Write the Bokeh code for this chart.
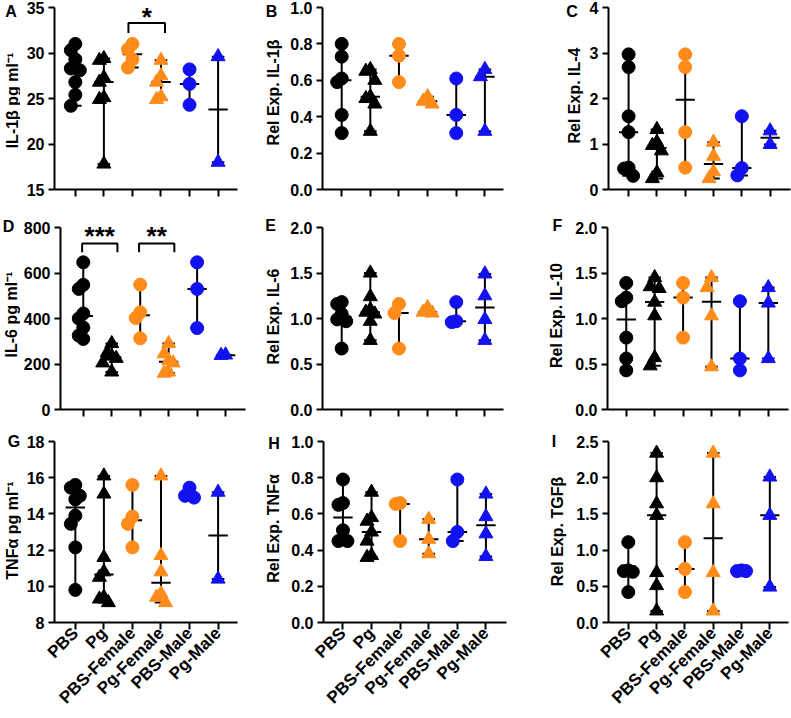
import math
from statistics import median

from bokeh.core.properties import value
from bokeh.embed import file_html
from bokeh.layouts import column, row
from bokeh.models import FixedTicker, Label, NumeralTickFormatter, Range1d
from bokeh.plotting import figure
from bokeh.resources import INLINE

# ---------------------------------------------------------------- data
groups = ["PBS", "Pg", "PBS-Female", "Pg-Female", "PBS-Male", "Pg-Male"]

il1b_elisa = [
    [31.0, 30.3, 29.3, 28.3, 28.1, 26.8, 25.4, 24.2],
    [29.4, 29.2, 27.3, 26.8, 25.1, 24.9, 17.8],
    [31.0, 30.4, 29.3, 28.4],
    [29.2, 27.5, 26.8, 25.2, 24.9],
    [28.2, 26.6, 24.3],
    [29.6, 18.0],
]
il1b_rel = [
    [0.80, 0.73, 0.61, 0.59, 0.41, 0.31],
    [0.66, 0.65, 0.60, 0.51, 0.50, 0.47, 0.32],
    [0.80, 0.735, 0.59],
    [0.51, 0.485, 0.47],
    [0.61, 0.41, 0.31],
    [0.66, 0.62, 0.32],
]
il4_rel = [
    [2.97, 2.69, 1.61, 1.26, 0.48, 0.46, 0.30],
    [1.32, 1.04, 0.97, 0.85, 0.37, 0.24],
    [2.97, 2.69, 1.26, 0.48],
    [1.04, 0.73, 0.39, 0.24],
    [1.61, 0.47, 0.31],
    [1.29, 0.99],
]
il6_elisa = [
    [647, 548, 530, 422, 400, 360, 325, 310],
    [290, 250, 235, 225, 205, 165],
    [549, 427, 402, 313],
    [290, 245, 215, 205, 165, 160],
    [647, 530, 358],
    [240, 238],
]
il6_rel = [
    [1.18, 1.16, 1.05, 0.99, 0.97, 0.67],
    [1.50, 1.24, 1.10, 1.07, 1.05, 0.97, 0.76],
    [1.16, 1.06, 0.67],
    [1.12, 1.07, 1.06],
    [1.18, 0.97, 0.96],
    [1.49, 1.25, 0.99, 0.76],
]
il10_rel = [
    [1.39, 1.23, 1.19, 0.79, 0.56, 0.43],
    [1.45, 1.35, 1.33, 1.18, 1.03, 0.57, 0.48],
    [1.39, 1.23, 0.79],
    [1.45, 1.34, 1.03, 0.47],
    [1.19, 0.56, 0.43],
    [1.34, 1.17, 0.56],
]
tnfa_elisa = [
    [15.6, 15.45, 15.0, 14.8, 13.9, 13.45, 12.15, 9.8],
    [16.1, 15.1, 11.6, 10.8, 10.5, 9.4, 9.3, 9.1],
    [15.6, 13.85, 13.45, 12.15],
    [16.1, 11.7, 10.8, 9.6, 9.4, 9.1],
    [15.45, 15.0, 14.9],
    [15.2, 10.4],
]
tnfa_rel = [
    [0.79, 0.66, 0.65, 0.51, 0.45, 0.45],
    [0.72, 0.58, 0.56, 0.50, 0.45, 0.37, 0.36],
    [0.66, 0.655, 0.45],
    [0.57, 0.46, 0.38],
    [0.79, 0.50, 0.45],
    [0.71, 0.585, 0.49, 0.365],
]
tgfb_rel = [
    [1.11, 0.72, 0.71, 0.70, 0.42],
    [2.34, 2.00, 1.64, 1.48, 0.69, 0.51, 0.16],
    [1.11, 0.74, 0.42],
    [2.34, 1.64, 0.69, 0.16],
    [0.72, 0.71, 0.71],
    [2.01, 1.48, 0.49],
]

# significance brackets: (group a, group b, stars)
sig_il1b = [(2, 3, "*")]
sig_il6 = [(0, 1, "***"), (2, 3, "**")]

y_titles = [
    "IL-1\u03b2 pg ml\u207b\u00b9", "Rel Exp. IL-1\u03b2", "Rel Exp. IL-4",
    "IL-6 pg ml\u207b\u00b9", "Rel Exp. IL-6", "Rel Exp. IL-10",
    "TNF\u03b1 pg ml\u207b\u00b9", "Rel Exp. TNF\u03b1", "Rel Exp. TGF\u03b2",
]
letters = ["A", "B", "C", "D", "E", "F", "G", "H", "I"]

# ---------------------------------------------------------------- style
FONT = "Liberation Sans"
TICK_FS = "16px"
XLAB_FS = "17px"
TITLE_FS = "16px"
LETTER_FS = "16px"
BLACK = "#000000"
ORANGE = "#FF8C1A"
BLUE = "#1212F0"
group_colors = [BLACK, BLACK, ORANGE, ORANGE, BLUE, BLUE]
group_markers = ["circle", "triangle"] * 3
marker_sizes = {"circle": 13, "triangle": 14}

# page layout of the 3x3 grid (pixels)
col_x = [0, 260, 520]
col_w = [260, 260, 271]
row_y = [0, 215, 431]
row_h = [215, 216, 287]
row_axis_top = [7, 227, 441]     # page y of the top tick of each row
row_fh = [182, 182, 181]         # pixel height of the value axis

# strip = width of the title strip left of each panel; frame = page x of the plot frame
# title = (x centre, y centre) of the rotated y-axis title on the page
panels = [
    dict(data=il1b_elisa, yr=(15, 35), ticks=[15, 20, 25, 30, 35], fmt="0",
         strip=20, frame=54, fw=183, xr=(-0.73, 5.68), title=(11.5, 100), letter_xy=(10.5, 11),
         sig=sig_il1b, br=(33.3, 32.2, -0.14, 0.14), star_y=11),
    dict(data=il1b_rel, yr=(0, 1), ticks=[0, 0.2, 0.4, 0.6, 0.8, 1.0], fmt="0.0",
         strip=23, frame=322, fw=181, xr=(-0.67, 5.65), title=(272.5, 92), letter_xy=(271, 11)),
    dict(data=il4_rel, yr=(0, 4), ticks=[0, 1, 2, 3, 4], fmt="0",
         strip=65, frame=608, fw=182, xr=(-0.71, 5.72), title=(574, 95), letter_xy=(571.5, 11)),
    dict(data=il6_elisa, yr=(0, 800), ticks=[0, 200, 400, 600, 800], fmt="0",
         strip=20, frame=60, fw=185, xr=(-0.8, 5.7), title=(11, 314), letter_xy=(8, 226),
         sig=sig_il6, br=(730, 691, -0.04, 0.2), star_y=230),
    dict(data=il6_rel, yr=(0, 2), ticks=[0, 0.5, 1.0, 1.5, 2.0], fmt="0.0",
         strip=23, frame=322, fw=181, xr=(-0.67, 5.65), title=(272.5, 316), letter_xy=(270, 225)),
    dict(data=il10_rel, yr=(0, 2), ticks=[0, 0.5, 1.0, 1.5, 2.0], fmt="0.0",
         strip=50, frame=607, fw=181, xr=(-0.66, 5.71), title=(556, 315), letter_xy=(557, 225)),
    dict(data=tnfa_elisa, yr=(8, 18), ticks=[8, 10, 12, 14, 16, 18], fmt="0",
         strip=21, frame=54, fw=183, xr=(-0.73, 5.68), title=(11.5, 530), letter_xy=(13.5, 441)),
    dict(data=tnfa_rel, yr=(0, 1), ticks=[0, 0.2, 0.4, 0.6, 0.8, 1.0], fmt="0.0",
         strip=23, frame=323, fw=183, xr=(-0.68, 5.72), title=(273, 528), letter_xy=(273.5, 443)),
    dict(data=tgfb_rel, yr=(0, 2.5), ticks=[0, 0.5, 1.0, 1.5, 2.0, 2.5], fmt="0.0",
         strip=50, frame=608, fw=180, xr=(-0.7, 5.66), title=(556.5, 531), letter_xy=(553.5, 441)),
]


def swarm_offsets(vals, px_per_y, step_px=4.5, min_dy=11.0):
    """Side-by-side placement of points whose values nearly coincide."""
    order = sorted(range(len(vals)), key=lambda i: -vals[i])
    placed, cols = [], [0] * len(vals)
    for i in order:
        y = vals[i] * px_per_y
        for c in (0, -1, 1, -2, 2, -3, 3):
            if all(not (pc == c and abs(py - y) < min_dy) for pc, py in placed):
                break
        placed.append((c, y))
        cols[i] = c
    return [c * step_px for c in cols]


def row_bottom_border(r):
    return row_y[r] + row_h[r] - (row_axis_top[r] + row_fh[r])


def make_strip(idx, spec):
    """Narrow figure holding the panel letter and the rotated y-axis title."""
    r, c = divmod(idx, 3)
    x0 = col_x[c]
    w = spec["strip"]
    bottom = row_bottom_border(r)
    frame_bottom = row_y[r] + row_h[r] - bottom
    s = figure(width=w, height=row_h[r],
               x_range=Range1d(x0, x0 + w),
               y_range=Range1d(frame_bottom, row_y[r]),
               output_backend="svg", toolbar_location=None,
               x_axis_location=None, y_axis_location=None,
               min_border_left=0, min_border_right=0,
               min_border_top=0, min_border_bottom=bottom)
    s.grid.visible = False
    s.outline_line_color = None
    s.background_fill_color = "white"
    s.border_fill_color = "white"
    lx, ly = spec["letter_xy"]
    s.text(x=[lx], y=[ly], text=[letters[idx]], text_align="center",
           text_baseline="middle", text_font=value(FONT),
           text_font_style="bold", text_font_size=LETTER_FS, text_color=BLACK)
    tx, ty = spec["title"]
    s.text(x=[tx], y=[ty], text=[y_titles[idx]], angle=math.pi / 2,
           text_align="center", text_baseline="middle", text_font=value(FONT),
           text_font_style="bold", text_font_size=TITLE_FS, text_color=BLACK)
    return s


def make_panel(idx, spec):
    r, c = divmod(idx, 3)
    fh = row_fh[r]
    bottom = row_bottom_border(r)
    fig_x = col_x[c] + spec["strip"]
    fig_w = col_w[c] - spec["strip"]
    left, fw = spec["frame"] - fig_x, spec["fw"]
    right = fig_w - left - fw
    x0, x1 = spec["xr"]
    y0, y1 = spec["yr"]
    axis_top = row_axis_top[r]
    px_per_x = fw / (x1 - x0)
    px_per_y = fh / (y1 - y0)
    # the plotting area reaches the top of the figure; the axis stops at y1
    y_end = y1 + (axis_top - row_y[r]) / px_per_y

    def to_data_y(py):
        return y1 - (py - axis_top) / px_per_y

    p = figure(width=fig_w, height=row_h[r],
               x_range=Range1d(x0, x1), y_range=Range1d(y0, y_end),
               output_backend="svg", toolbar_location=None,
               min_border_left=left, min_border_right=right,
               min_border_top=0, min_border_bottom=bottom)
    p.grid.visible = False
    p.outline_line_color = None
    p.background_fill_color = "white"
    p.border_fill_color = "white"

    for ax in (p.xaxis[0], p.yaxis[0]):
        ax.axis_line_width = 2
        ax.axis_line_color = BLACK
        ax.major_tick_line_width = 2
        ax.major_tick_line_color = BLACK
        ax.major_tick_in = 0
        ax.minor_tick_line_color = None
        ax.major_label_text_font = FONT
        ax.major_label_text_font_style = "bold"
        ax.major_label_text_font_size = TICK_FS
        ax.major_label_text_color = BLACK

    yax = p.yaxis[0]
    yax.ticker = FixedTicker(ticks=spec["ticks"])
    yax.formatter = NumeralTickFormatter(format=spec["fmt"])
    yax.bounds = (y0, y1)
    yax.major_tick_out = 6
    yax.major_label_standoff = 4

    xax = p.xaxis[0]
    xax.ticker = FixedTicker(ticks=list(range(len(groups))))
    xax.major_tick_out = 7
    if r == 2:
        xax.major_label_overrides = {i: g for i, g in enumerate(groups)}
        xax.major_label_orientation = math.pi / 4
        xax.major_label_standoff = 1
        xax.major_label_text_font_size = XLAB_FS
    else:
        xax.major_label_overrides = {i: "" for i in range(len(groups))}
        xax.major_label_text_font_size = "1px"
        xax.major_label_standoff = 0

    # median with range
    seg = dict(x0=[], y0=[], x1=[], y1=[])

    def add_seg(a, b, cc, d):
        seg["x0"].append(a); seg["y0"].append(b)
        seg["x1"].append(cc); seg["y1"].append(d)

    for gi, vals in enumerate(spec["data"]):
        lo, hi, med = min(vals), max(vals), median(vals)
        add_seg(gi, lo, gi, hi)
        add_seg(gi - 0.22, lo, gi + 0.22, lo)
        add_seg(gi - 0.22, hi, gi + 0.22, hi)
        add_seg(gi - 0.34, med, gi + 0.34, med)
    p.segment(x0="x0", y0="y0", x1="x1", y1="y1", source=seg,
              line_color=BLACK, line_width=2)

    # individual animals
    for gi, vals in enumerate(spec["data"]):
        offs = swarm_offsets(vals, px_per_y)
        xs = [gi + o / px_per_x for o in offs]
        mk = group_markers[gi]
        p.scatter(xs, vals, marker=mk, size=marker_sizes[mk],
                  fill_color=group_colors[gi], line_color=group_colors[gi])

    # significance brackets
    if "sig" in spec:
        btop, bleg, dl, dr = spec["br"]
        for a, b, stars in spec["sig"]:
            xa, xb = a + dl, b + dr
            p.line([xa, xa, xb, xb], [bleg, btop, btop, bleg],
                   line_color=BLACK, line_width=2)
            fs = 26
            p.add_layout(Label(x=(xa + xb) / 2, y=to_data_y(spec["star_y"] + 0.2 * fs),
                               text=stars, text_align="center",
                               text_baseline="alphabetic",
                               text_font=FONT, text_font_style="bold",
                               text_font_size=f"{fs}px", text_color=BLACK))
    return p


rows = []
for r in range(3):
    items = []
    for c in range(3):
        i = r * 3 + c
        items.append(make_strip(i, panels[i]))
        items.append(make_panel(i, panels[i]))
    rows.append(row(*items))
layout = column(*rows)

open("out.html", "w").write(file_html(layout, INLINE))
